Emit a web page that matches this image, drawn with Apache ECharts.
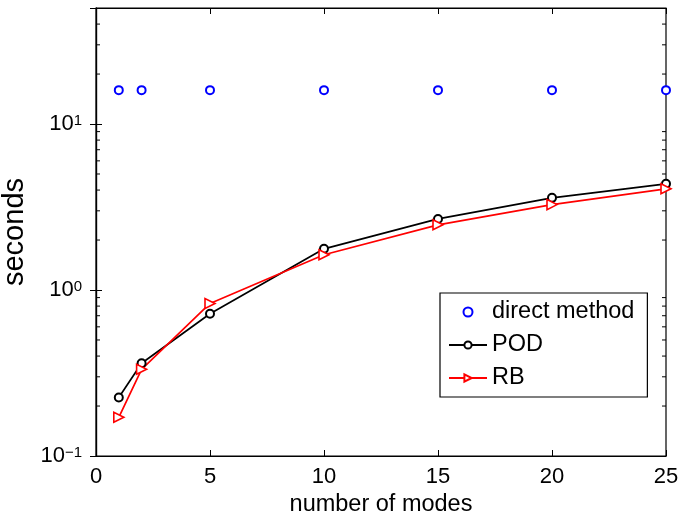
<!DOCTYPE html>
<html><head><meta charset="utf-8">
<script src="https://cdn.jsdelivr.net/npm/echarts@6/dist/echarts.min.js"></script>
<style>html,body{margin:0;padding:0;background:#fff}#c{width:678px;height:511px}</style>
</head><body><div id="c"></div>
<script>
var modes = [1, 2, 5, 10, 15, 20, 25];
var directMethod = [16.0, 16.0, 16.0, 16.0, 16.0, 16.0, 16.0];
var pod = [0.225, 0.362, 0.72, 1.77, 2.68, 3.59, 4.36];
var rb = [0.171, 0.333, 0.83, 1.63, 2.47, 3.27, 4.07];
var xTicks = [0, 5, 10, 15, 20, 25];
var yMinorTicks = [0.2,0.3,0.4,0.5,0.6,0.7,0.8,0.9,2,3,4,5,6,7,8,9,20,30,40];
var seriesNames = ['direct method', 'POD', 'RB'];

var FONT = 'Liberation Sans';
var chart = echarts.init(document.getElementById('c'));
function zip(xs, ys){ return xs.map(function(x,i){ return [x, ys[i]]; }); }
var supMap = {'-1':'\u22121','0':'0','1':'1','2':'2'};
var baseAxisY = {
  type: 'log', logBase: 10, min: 0.1, max: 50,
  axisLine: {show: true, lineStyle: {color: '#000', width: 1.2}},
  axisTick: {show: true, inside: true, length: 6, lineStyle: {color: '#000'}},
  splitLine: {show: false}, minorTick: {show: false}
};
var option = {
  animation: false,
  backgroundColor: '#fff',
  textStyle: {fontFamily: FONT},
  grid: {left: 96, right: 12, top: 8, bottom: 55, show: true, borderColor: '#000', borderWidth: 1.2,
         containLabel: false, outerBoundsMode: 'none'},
  xAxis: [{
    type: 'value', min: xTicks[0], max: xTicks[xTicks.length-1], interval: 5, position: 'bottom',
    name: 'number of modes', nameLocation: 'middle', nameGap: 27,
    nameTextStyle: {fontFamily: FONT, fontSize: 23.5, color: '#000'},
    axisLine: {show: true, onZero: false, lineStyle: {color: '#000', width: 1.2}},
    axisTick: {show: true, inside: true, length: 6, lineStyle: {color: '#000'}},
    axisLabel: {fontFamily: FONT, fontSize: 22, color: '#000', margin: 10},
    splitLine: {show: false}
  },{
    type: 'value', min: xTicks[0], max: xTicks[xTicks.length-1], interval: 5, position: 'top',
    axisLine: {show: true, onZero: false, lineStyle: {color: '#000', width: 1.2}},
    axisTick: {show: true, inside: true, length: 6, lineStyle: {color: '#000'}},
    axisLabel: {show: false}, splitLine: {show: false}
  }],
  yAxis: [Object.assign({}, baseAxisY, {
    position: 'left', name: 'seconds', nameLocation: 'middle', nameGap: 54,
    nameTextStyle: {fontFamily: FONT, fontSize: 29, color: '#000'},
    axisLabel: {
      margin: 14,
      formatter: function(v){
        var e = Math.log10(v), r = Math.round(e);
        if (Math.abs(e - r) > 1e-6) return '';
        return '{b|10}{s|' + supMap[String(r)] + '}';
      },
      rich: {
        b: {fontFamily: FONT, fontSize: 22, lineHeight: 22, color: '#000'},
        s: {fontFamily: FONT, fontSize: 15, lineHeight: 15, color: '#000', verticalAlign: 'top'}
      }
    }
  }), Object.assign({}, baseAxisY, {
    position: 'right', axisLabel: {show: false}
  })],
  legend: {
    data: seriesNames,
    orient: 'vertical', left: 440, top: 293,
    backgroundColor: '#fff', borderColor: '#000', borderWidth: 1.2,
    padding: [7, 13, 7, 8],
    itemWidth: 38, itemHeight: 9, itemGap: 9,
    textStyle: {fontFamily: FONT, fontSize: 23.5, color: '#000', lineHeight: 22}
  },
  series: [{
    name: seriesNames[0], type: 'scatter', data: zip(modes, directMethod),
    symbol: 'emptyCircle', symbolSize: 8,
    itemStyle: {color: '#0000FF', borderColor: '#0000FF', borderWidth: 1.8, opacity: 1}
  },{
    name: seriesNames[1], type: 'line', data: zip(modes, pod),
    symbol: 'emptyCircle', symbolSize: 8, showAllSymbol: true,
    lineStyle: {color: '#000', width: 1.7},
    itemStyle: {color: '#000', borderColor: '#000', borderWidth: 1.6}
  },{
    name: seriesNames[2], type: 'line', data: zip(modes, rb),
    symbol: 'triangle', symbolRotate: -90, symbolSize: 10, showAllSymbol: true,
    lineStyle: {color: '#FF0000', width: 1.7},
    itemStyle: {color: '#fff', borderColor: '#FF0000', borderWidth: 1.6}
  },{
    type: 'custom', silent: true, clip: false,
    data: yMinorTicks.map(function(v){ return [xTicks[0], v]; }),
    renderItem: function(params, api){
      var v = api.value(1);
      var pl = api.coord([xTicks[0], v]);
      var pr = api.coord([xTicks[xTicks.length-1], v]);
      var st = {stroke: '#000', lineWidth: 1};
      return {type: 'group', children: [
        {type: 'line', shape: {x1: pl[0], y1: pl[1], x2: pl[0] + 4, y2: pl[1]}, style: st},
        {type: 'line', shape: {x1: pr[0], y1: pr[1], x2: pr[0] - 4, y2: pr[1]}, style: st}
      ]};
    }
  }]
};
chart.setOption(option);
</script></body></html>
